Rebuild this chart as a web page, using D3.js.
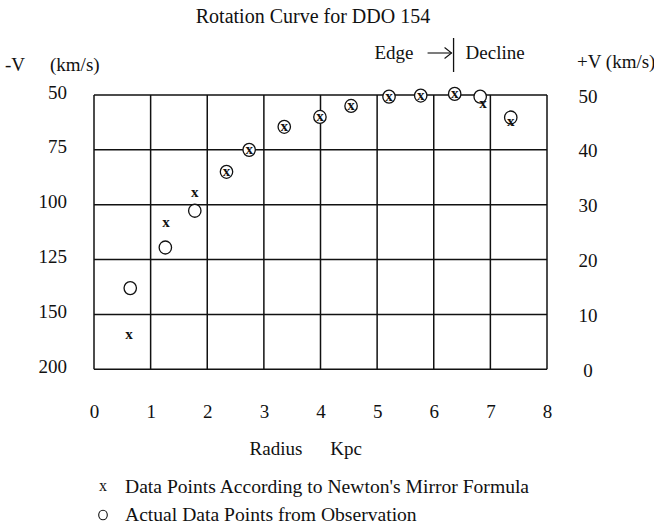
<!DOCTYPE html>
<html>
<head>
<meta charset="utf-8">
<script src="https://cdn.jsdelivr.net/npm/d3@7"></script>
<style>
  html, body { margin: 0; padding: 0; background: #fff; }
  svg { display: block; }
</style>
</head>
<body>
<script>
// ---- data ----
const xTicks = [0, 1, 2, 3, 4, 5, 6, 7, 8];
const rightTicks = [0, 10, 20, 30, 40, 50];
const leftLabels = ["200", "150", "125", "100", "75", "50"]; // aligned with rightTicks
const newtonR = [0.62, 1.27, 1.78, 2.34, 2.74, 3.36, 3.99, 4.54, 5.21, 5.77, 6.37, 6.87, 7.36];
const newtonV = [6.2, 26.7, 32.2, 36.0, 40.0, 44.2, 46.0, 48.0, 49.7, 49.9, 50.2, 48.4, 45.1];
const obsR = [0.64, 1.26, 1.78, 2.34, 2.74, 3.36, 3.99, 4.54, 5.21, 5.77, 6.37, 6.82, 7.36];
const obsV = [14.8, 22.2, 28.9, 36.0, 40.0, 44.2, 46.0, 48.0, 49.7, 49.9, 50.2, 49.7, 45.9];
const edgeR = 6.35;
const title = "Rotation Curve for DDO 154";
const legendLabels = ["Data Points According to Newton's Mirror Formula", "Actual Data Points from Observation"];

// ---- layout ----
const W = 654, H = 525;
const L = 94, R = 547, T = 95, B = 369.3;
const FS = 19;
const FONT = '"Liberation Serif", "Times New Roman", serif';

const svg = d3.select("body").append("svg").attr("width", W).attr("height", H);
const x = d3.scaleLinear().domain([0, 8]).range([L, R]);
const y = d3.scaleLinear().domain([0, 50]).range([B, T]);

function styleText(sel, size) {
  return sel.style("font-family", FONT).style("font-size", size + "px").style("fill", "#111");
}

// grid
const grid = svg.append("g").attr("stroke", "#111").attr("stroke-width", 1.5);
grid.selectAll("line.v").data(xTicks).join("line").attr("class", "v")
  .attr("x1", d => x(d)).attr("x2", d => x(d)).attr("y1", T).attr("y2", B);
grid.selectAll("line.h").data(rightTicks).join("line").attr("class", "h")
  .attr("x1", L).attr("x2", R).attr("y1", d => y(d)).attr("y2", d => y(d));

// left axis
const leftAxis = d3.axisLeft(y).tickValues(rightTicks).tickSize(0)
  .tickFormat((d, i) => leftLabels[i]);
const gl = svg.append("g").attr("transform", `translate(${L - 27},0)`).call(leftAxis);
gl.select(".domain").remove();
styleText(gl.selectAll("text"), FS).attr("x", 0).attr("dy", "0.32em")
  .attr("transform", "translate(0,-3)");

// right axis
const rightAxis = d3.axisRight(y).tickValues(rightTicks).tickSize(0);
const gr = svg.append("g").attr("transform", `translate(${R + 41},0)`).call(rightAxis);
gr.select(".domain").remove();
styleText(gr.selectAll("text"), FS).attr("x", 0).attr("text-anchor", "middle").attr("dy", "0.32em")
  .attr("transform", "translate(0,1)");

// bottom axis
const bottomAxis = d3.axisBottom(x).tickValues(xTicks).tickSize(0);
const gb = svg.append("g").attr("transform", `translate(0,${B})`).call(bottomAxis);
gb.select(".domain").remove();
styleText(gb.selectAll("text"), FS).attr("y", 0).attr("dy", "0").attr("transform", "translate(0,49)");

// titles
styleText(svg.append("text"), 20).attr("x", 313).attr("y", 23).attr("text-anchor", "middle").text(title);
styleText(svg.append("text"), FS).attr("x", 5).attr("y", 71).text("-V");
styleText(svg.append("text"), FS).attr("x", 50).attr("y", 71).text("(km/s)");
styleText(svg.append("text"), FS).attr("x", 577).attr("y", 68).text("+V (km/s)");
styleText(svg.append("text"), FS).attr("x", 276).attr("y", 455).attr("text-anchor", "middle").text("Radius");
styleText(svg.append("text"), FS).attr("x", 346).attr("y", 455).attr("text-anchor", "middle").text("Kpc");

// edge annotation
const ex = x(edgeR);
svg.append("line").attr("x1", ex).attr("x2", ex).attr("y1", 38).attr("y2", 72)
  .attr("stroke", "#111").attr("stroke-width", 1.3);
styleText(svg.append("text"), FS).attr("x", ex - 40).attr("y", 59).attr("text-anchor", "end").text("Edge");
svg.append("line").attr("x1", ex - 26).attr("x2", ex - 2).attr("y1", 53).attr("y2", 53)
  .attr("stroke", "#111").attr("stroke-width", 1.1);
svg.append("path").attr("d", `M${ex - 9},${47.5} L${ex - 2},53 L${ex - 9},${58.5}`)
  .attr("fill", "none").attr("stroke", "#111").attr("stroke-width", 1.1);
styleText(svg.append("text"), FS).attr("x", ex + 12).attr("y", 59).text("Decline");

// observed points
const obs = obsR.map((r, i) => ({ r, v: obsV[i] }));
svg.append("g").selectAll("ellipse").data(obs).join("ellipse")
  .attr("cx", d => x(d.r)).attr("cy", d => y(d.v))
  .attr("rx", 6.2).attr("ry", 6.5)
  .attr("fill", "#fff").attr("stroke", "#111").attr("stroke-width", 1.3);

// newton points
const newt = newtonR.map((r, i) => ({ r, v: newtonV[i] }));
styleText(svg.append("g").selectAll("text").data(newt).join("text"), 15)
  .attr("x", d => x(d.r)).attr("y", d => y(d.v) + 4)
  .attr("text-anchor", "middle").style("font-weight", "bold")
  .text("x");

// legend
styleText(svg.append("text"), 16).attr("x", 103).attr("y", 491).attr("text-anchor", "middle").text("x");
svg.append("ellipse").attr("cx", 103).attr("cy", 515).attr("rx", 4.3).attr("ry", 4.8)
  .attr("fill", "none").attr("stroke", "#111").attr("stroke-width", 1.1);
styleText(svg.append("text"), 19.6).attr("x", 125).attr("y", 493).text(legendLabels[0]);
styleText(svg.append("text"), 19.6).attr("x", 125).attr("y", 521).text(legendLabels[1]);
</script>
</body>
</html>
